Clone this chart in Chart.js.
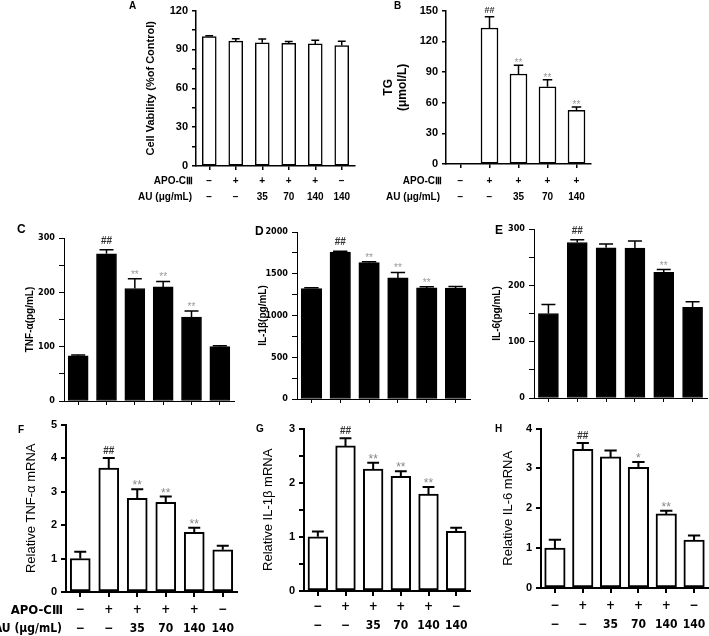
<!DOCTYPE html>
<html>
<head>
<meta charset="utf-8">
<script src="https://cdn.jsdelivr.net/npm/chart.js@4.4.0/dist/chart.umd.min.js"></script>
<style>
    body { margin: 0; background: #fff; overflow: hidden; }
    #fig { position: relative; width: 709px; height: 636px; font-family: 'Liberation Sans', Arial, sans-serif; }
    #fig canvas { position: absolute; }
    .txt { position: absolute; font-weight: bold; color: #000; white-space: nowrap; line-height: 1; }
</style>
</head>
<body>
<div id="fig"></div>
<script>
// Treatment groups (x axis rows)
const apoRow = ['−', '+', '+', '+', '+', '−'];
const auRow = ['−', '−', '35', '70', '140', '140'];
const apoRowTG = ['−', '+', '+', '+', '+'];
const auRowTG = ['−', '−', '35', '70', '140'];

// A: cell viability (% of control)
const viabMean = [100, 96.4, 95.1, 94.8, 94.3, 93.0];
const viabErr = [0.6, 1.9, 2.9, 1.4, 2.9, 3.4];
const viabSig = ['', '', '', '', '', ''];

// B: TG (umol/L), first group has no bar
const tgMean = [null, 133, 88, 75.5, 52.5];
const tgErr = [0, 11, 8.5, 7, 3.2];
const tgSig = ['', '##', '**', '**', '**'];

// C-E: cytokine protein (pg/mL)
const tnfProt = [83, 271, 207, 210, 154.5, 100];
const tnfProtErr = [1.5, 7.5, 18, 10, 11, 1.5];
const il1bProt = [1322, 1760, 1633, 1450, 1330, 1328];
const il1bProtErr = [10, 10, 12, 65, 15, 18];
const il6Prot = [150, 276, 266.5, 266, 223, 161];
const il6ProtErr = [16, 5, 7, 12.5, 5, 10];

// F-H: relative mRNA
const tnfMrna = [1.0, 3.7, 2.8, 2.68, 1.78, 1.26];
const tnfMrnaErr = [0.2, 0.3, 0.27, 0.17, 0.14, 0.12];
const il1bMrna = [1.0, 2.68, 2.25, 2.12, 1.79, 1.1];
const il1bMrnaErr = [0.1, 0.14, 0.12, 0.09, 0.13, 0.07];
const il6Mrna = [1.0, 3.48, 3.29, 3.03, 1.86, 1.2];
const il6MrnaErr = [0.21, 0.16, 0.16, 0.13, 0.08, 0.12];

const sigStd = ['', '##', '**', '**', '**', ''];
const sigIl6Prot = ['', '##', '', '', '**', ''];
const sigIl6Mrna = ['', '##', '', '*', '**', ''];

const narrow = "'Liberation Sans Narrow', 'DejaVu Sans Condensed', Arial, sans-serif";
const plain = "'Liberation Sans', Arial, sans-serif";

// Upper error bars + significance marks
const errorBars = {
    id: 'errorBars',
    afterDatasetsDraw(chart, args, opts) {
        const ds = chart.data.datasets[0];
        const meta = chart.getDatasetMeta(0);
        const y = chart.scales.y;
        const ctx = chart.ctx;
        ctx.save();
        meta.data.forEach((bar, i) => {
            const v = ds.data[i];
            if (v == null) return;
            const e = ds.errors[i] || 0;
            const top = y.getPixelForValue(v + e);
            const half = bar.width * opts.cap;
            if (e > 0) {
                ctx.strokeStyle = '#000';
                ctx.lineWidth = opts.width;
                ctx.beginPath();
                ctx.moveTo(bar.x, bar.y);
                ctx.lineTo(bar.x, top);
                ctx.moveTo(bar.x - half, top);
                ctx.lineTo(bar.x + half, top);
                ctx.stroke();
            }
            const s = ds.sig[i];
            if (s) {
                const isHash = s[0] === '#';
                ctx.fillStyle = isHash ? opts.hashColor : opts.starColor;
                ctx.font = isHash ? opts.hashFont : opts.starFont;
                ctx.textAlign = 'center';
                ctx.textBaseline = 'alphabetic';
                ctx.fillText(s, bar.x, top - (isHash ? opts.hashGap : opts.starGap));
            }
        });
        ctx.restore();
    }
};

const styleTop = {
    barBorder: 1.5, axisLine: 1.5, yTick: 4, xTick: 4,
    yFont: { family: plain, size: 11, weight: 'bold' },
    xFont: { family: plain, size: 10, weight: 'bold', lineHeight: 1.6 },
    err: { cap: 0.28, width: 1.5, hashFont: 'bold 9px ' + plain, starFont: '10px ' + plain,
           hashColor: '#333', starColor: '#999', hashGap: 3.5, starGap: -1 }
};
const styleMid = {
    barBorder: 1, axisLine: 1, yTick: 5, xTick: 4,
    yFont: { family: narrow, size: 9, weight: 'bold' },
    xFont: { family: plain, size: 10 },
    err: { cap: 0.35, width: 1.5, hashFont: 'bold 10px ' + plain, starFont: '10px ' + plain,
           hashColor: '#333', starColor: '#999', hashGap: 6, starGap: 1 }
};
const styleBot = {
    barBorder: 2, axisLine: 2, yTick: 5, xTick: 5,
    yFont: { family: plain, size: 11, weight: 'bold' },
    xFont: { family: narrow, size: 12, weight: 'bold', lineHeight: 19 / 12 },
    err: { cap: 0.3, width: 2, hashFont: 'bold 10px ' + plain, starFont: '12px ' + plain,
           hashColor: '#333', starColor: '#888', hashGap: 4, starGap: 0 }
};

const panels = [
    { values: viabMean, errors: viabErr, sig: viabSig, apo: apoRow, au: auRow, rows: true, fill: '#fff',
      yMax: 120, step: 15, major: 30, title: 'Cell Vability (%of Control)',
      titleFont: { family: plain, size: 11, weight: 'bold' }, titlePad: 9,
      left: 135, top: 0, axisW: 61, plotW: 159, padR: 4, padT: 7, plotH: 159, xAxisH: 40, xPad: 3, barW: 14, st: styleTop },
    { values: tgMean, errors: tgErr, sig: tgSig, apo: apoRowTG, au: auRowTG, rows: true, fill: '#fff',
      yMax: 150, step: 15, major: 30, title: ['TG', '(μmol/L)'],
      titleFont: { family: plain, size: 12, weight: 'bold', lineHeight: 14 / 12 }, titlePad: 7,
      left: 375, top: 0, axisW: 71, plotW: 145, padR: 4, padT: 9, plotH: 155, xAxisH: 40, xPad: 5, barW: 17, st: styleTop },
    { values: tnfProt, errors: tnfProtErr, sig: sigStd, apo: apoRow, au: auRow, rows: false, fill: '#000',
      yMax: 300, step: 50, major: 100, title: 'TNF-α(pg/mL)',
      titleFont: { family: plain, size: 10, weight: 'bold' }, titlePad: 9,
      left: 15, top: 228, axisW: 49, plotW: 170, padR: 4, padT: 10, plotH: 163, xAxisH: 10, xPad: 0, barW: 20, st: styleMid },
    { values: il1bProt, errors: il1bProtErr, sig: sigStd, apo: apoRow, au: auRow, rows: false, fill: '#000',
      yMax: 2000, step: 250, major: 500, title: 'IL-1β(pg/mL)',
      titleFont: { family: plain, size: 10, weight: 'bold' }, titlePad: 9,
      left: 248, top: 222, axisW: 49, plotW: 173, padR: 4, padT: 10, plotH: 167, xAxisH: 10, xPad: 0, barW: 20.5, st: styleMid },
    { values: il6Prot, errors: il6ProtErr, sig: sigIl6Prot, apo: apoRow, au: auRow, rows: false, fill: '#000',
      yMax: 300, step: 50, major: 100, title: 'IL-6(pg/mL)',
      titleFont: { family: plain, size: 10, weight: 'bold' }, titlePad: 6.5,
      left: 485, top: 219, axisW: 49, plotW: 173, padR: 2, padT: 10, plotH: 169, xAxisH: 10, xPad: 0, barW: 20, st: styleMid },
    { values: tnfMrna, errors: tnfMrnaErr, sig: sigStd, apo: apoRow, au: auRow, rows: true, fill: '#fff',
      yMax: 5, step: 1, major: 1, title: 'Relative TNF-α mRNA',
      titleFont: { family: plain, size: 13 }, titlePad: 8.7,
      left: 15, top: 414, axisW: 51, plotW: 171, padR: 4, padT: 10, plotH: 168, xAxisH: 44, xPad: 3, barW: 20, st: styleBot },
    { values: il1bMrna, errors: il1bMrnaErr, sig: sigStd, apo: apoRow, au: auRow, rows: true, fill: '#fff',
      yMax: 3, step: 0.5, major: 1, title: 'Relative IL-1β mRNA',
      titleFont: { family: plain, size: 13 }, titlePad: 8.2,
      left: 252, top: 418, axisW: 52, plotW: 166, padR: 4, padT: 10, plotH: 163, xAxisH: 45, xPad: 1, barW: 19.7, st: styleBot },
    { values: il6Mrna, errors: il6MrnaErr, sig: sigIl6Mrna, apo: apoRow, au: auRow, rows: true, fill: '#fff',
      yMax: 4, step: 1, major: 1, title: 'Relative IL-6 mRNA',
      titleFont: { family: plain, size: 13 }, titlePad: 10.7,
      left: 490, top: 418, axisW: 51, plotW: 167, padR: 1, padT: 10, plotH: 160, xAxisH: 48, xPad: 3.5, barW: 20.5, st: styleBot }
];

// Panel letters (left, centre y, text, size)
const texts = [
    [129, 6, 'A', 10], [394, 6, 'B', 10], [17, 228.5, 'C', 12], [255, 231, 'D', 12], [495, 230, 'E', 12],
    [18, 429.5, 'F', 10], [256, 429, 'G', 10], [495, 429, 'H', 10]
];
// Row headers (right edge, centre y, text, size)
const rowHeads = [
    [193, 181, 'APO-CⅢ', 10], [192, 197, 'AU (μg/mL)', 10],
    [442, 181, 'APO-CⅢ', 10], [440, 197, 'AU (μg/mL)', 10],
    [63, 609, 'APO-CⅢ', 13], [62, 628, 'AU (μg/mL)', 12]
];

const fig = document.getElementById('fig');

function buildPanel(p) {
    const st = p.st;
    const w = p.axisW + p.plotW + p.padR;
    const h = p.padT + p.plotH + p.xAxisH;
    const canvas = document.createElement('canvas');
    canvas.width = w;
    canvas.height = h;
    canvas.style.left = p.left + 'px';
    canvas.style.top = p.top + 'px';
    canvas.style.width = w + 'px';
    canvas.style.height = h + 'px';
    fig.appendChild(canvas);

    const labels = p.apo.map((a, i) => [a, p.au[i]]);

    new Chart(canvas.getContext('2d'), {
        type: 'bar',
        data: {
            labels: labels,
            datasets: [{
                data: p.values,
                errors: p.errors,
                sig: p.sig,
                backgroundColor: p.fill,
                borderColor: '#000',
                borderWidth: st.barBorder,
                borderSkipped: false,
                barThickness: p.barW
            }]
        },
        options: {
            responsive: false,
            animation: false,
            devicePixelRatio: 1,
            layout: { padding: { top: p.padT, right: p.padR, left: 0, bottom: 0 } },
            plugins: {
                legend: { display: false },
                tooltip: { enabled: false },
                errorBars: st.err
            },
            scales: {
                x: {
                    offset: true,
                    grid: { offset: false, drawOnChartArea: false, drawTicks: true, tickLength: st.xTick,
                            color: '#000', lineWidth: st.axisLine },
                    border: { color: '#000', width: st.axisLine },
                    ticks: { display: p.rows, maxRotation: 0, minRotation: 0, autoSkip: false,
                             padding: p.xPad, color: '#000', font: st.xFont },
                    afterFit: s => { s.height = p.xAxisH; }
                },
                y: {
                    min: 0,
                    max: p.yMax,
                    grid: { drawOnChartArea: false, drawTicks: true, tickLength: st.yTick,
                            color: '#000', lineWidth: st.axisLine },
                    border: { color: '#000', width: st.axisLine },
                    ticks: {
                        stepSize: p.step,
                        padding: 4,
                        color: '#000',
                        font: st.yFont,
                        callback: v => (Math.abs(v / p.major - Math.round(v / p.major)) < 1e-6 ? v : '')
                    },
                    title: { display: true, text: p.title, color: '#000', font: p.titleFont,
                             padding: { top: p.titlePad, bottom: 0 } },
                    afterFit: s => { s.width = p.axisW; }
                }
            }
        },
        plugins: [errorBars]
    });
}

panels.forEach(buildPanel);

texts.forEach(([x, y, t, size]) => {
    const d = document.createElement('div');
    d.className = 'txt';
    d.textContent = t;
    d.style.left = x + 'px';
    d.style.top = (y - size / 2) + 'px';
    d.style.fontSize = size + 'px';
    fig.appendChild(d);
});

rowHeads.forEach(([r, y, t, size]) => {
    const d = document.createElement('div');
    d.className = 'txt';
    d.textContent = t;
    d.style.right = (709 - r) + 'px';
    d.style.top = (y - size / 2) + 'px';
    d.style.fontSize = size + 'px';
    if (size > 10) d.style.fontFamily = narrow;
    fig.appendChild(d);
});
</script>
</body>
</html>
